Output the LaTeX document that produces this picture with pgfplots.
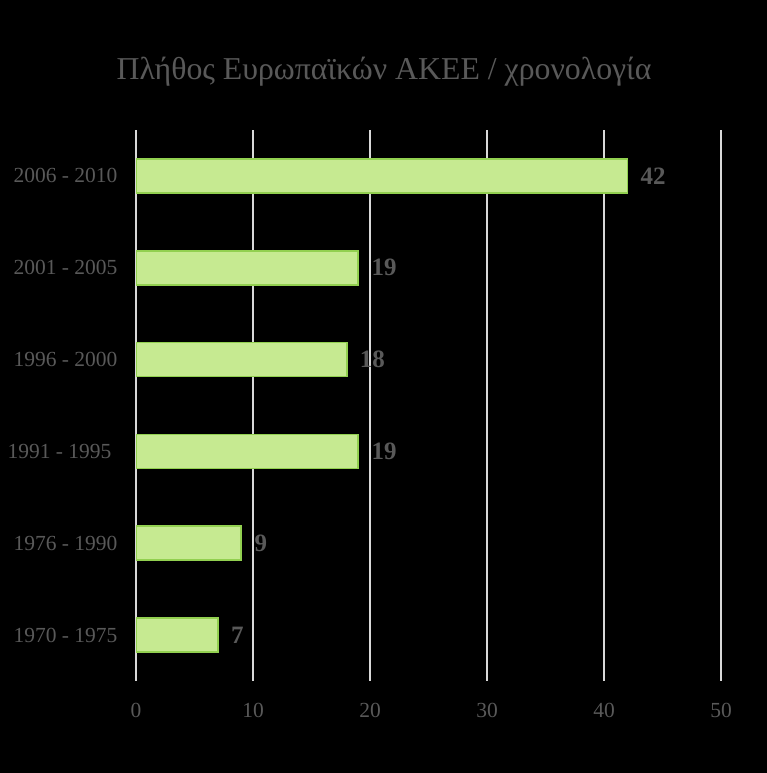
\documentclass[border=0pt]{standalone}
\usepackage{pgfplots}
\pgfplotsset{compat=1.18}
\usepackage{fontspec}
\setmainfont{Liberation Serif}

\definecolor{txtgray}{RGB}{89,89,89}
\definecolor{bargreen}{RGB}{146,208,80}
\definecolor{barfill}{RGB}{198,234,145}
\definecolor{gridgray}{RGB}{217,217,217}

\begin{document}
\begin{tikzpicture}
    \fill[black] (0,0) rectangle (767bp,773bp);
    \node[text=txtgray, font=\fontsize{31.8bp}{36bp}\selectfont] at (384bp,701bp)
        {Πλήθος Ευρωπαϊκών ΑΚΕΕ / χρονολογία};
    \begin{axis}[
        at={(136bp,92bp)}, anchor=south west,
        scale only axis,
        width=585bp, height=551bp,
        xbar, bar width=34bp,
        xmin=0, xmax=50,
        ymin=-0.5, ymax=5.5,
        xtick={0,10,...,50},
        ytick=data,
        yticklabels={1970 - 1975, 1976 - 1990, 1991 - 1995\hspace*{6bp}, 1996 - 2000, 2001 - 2005, 2006 - 2010},
        axis line style={draw=none},
        major tick length=0pt,
        xmajorgrids,
        major grid style={gridgray, line width=1.2bp},
        ticklabel style={text=txtgray, font=\fontsize{21.5bp}{24bp}\selectfont},
        xticklabel style={yshift=-19bp},
        yticklabel style={xshift=-15bp},
        /pgf/number format/assume math mode=true,
        nodes near coords,
        nodes near coords style={anchor=west, xshift=9bp, text=txtgray,
            font=\fontsize{25bp}{28bp}\selectfont\bfseries},
    ]
    \addplot[draw=bargreen, fill=barfill, line width=1.8bp] coordinates {
        (7,0) (9,1) (19,2) (18,3) (19,4) (42,5)
    };
    \end{axis}
    \pgfresetboundingbox
    \path (0,0) rectangle (767bp,773bp);
\end{tikzpicture}
\end{document}
